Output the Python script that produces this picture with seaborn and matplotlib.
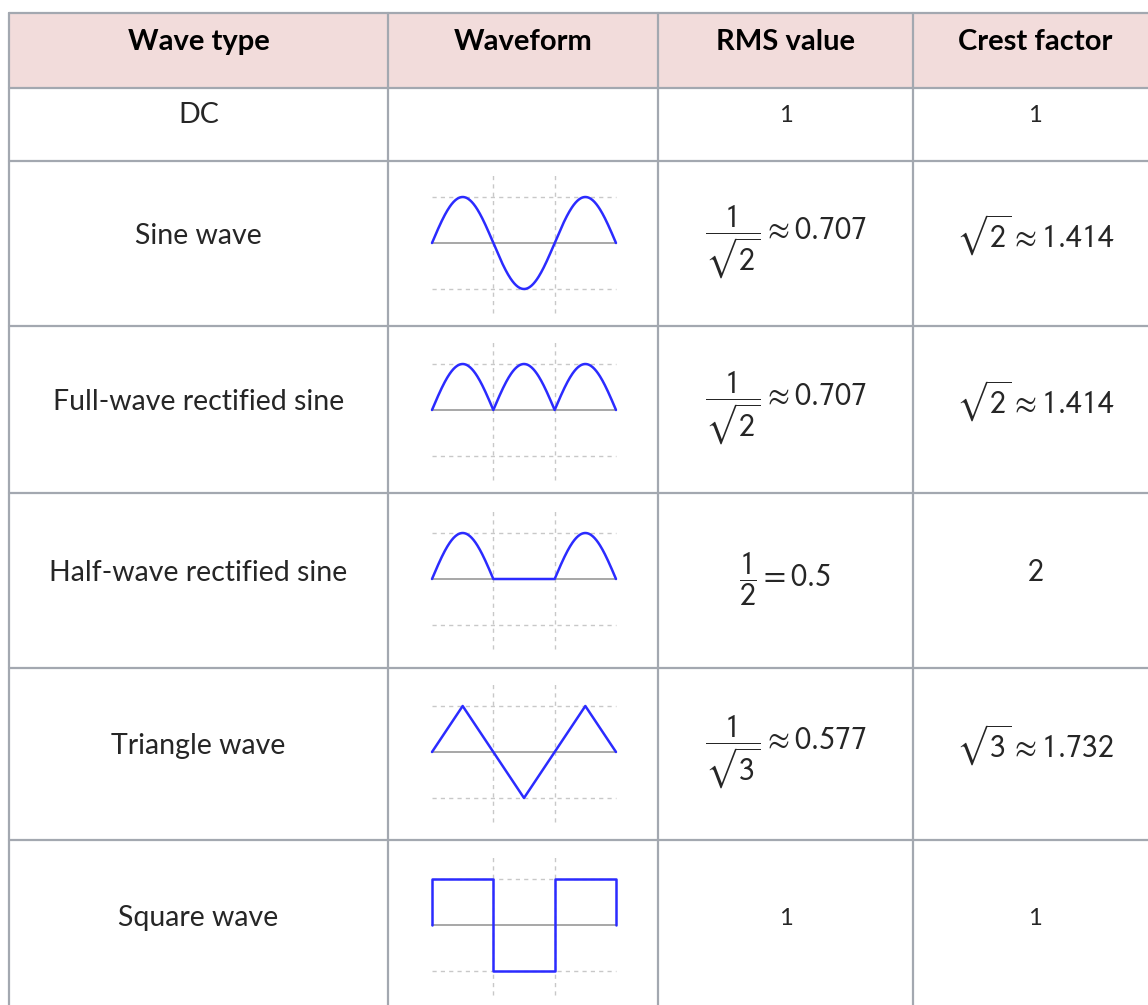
import numpy as np
import pandas as pd
import seaborn as sns
import matplotlib.pyplot as plt

sns.set_style("white")
plt.rcParams['font.family'] = ['Lato', 'DejaVu Sans']
plt.rcParams['mathtext.fontset'] = 'stixsans'

headers = ['Wave type', 'Waveform', 'RMS value', 'Crest factor']
wave_types = ['DC', 'Sine wave', 'Full-wave rectified sine', 'Half-wave rectified sine',
              'Triangle wave', 'Square wave']
rms_labels = ['1', r'$\dfrac{1}{\sqrt{2}}\approx 0.707$', r'$\dfrac{1}{\sqrt{2}}\approx 0.707$',
              r'$\dfrac{1}{2} = 0.5$', r'$\dfrac{1}{\sqrt{3}}\approx 0.577$', '1']
crest_labels = ['1', r'$\sqrt{2}\approx 1.414$', r'$\sqrt{2}\approx 1.414$', '$2$',
                r'$\sqrt{3}\approx 1.732$', '1']

# waveform vertices over 1.5 periods (t in units of pi)
t = np.linspace(0, 3, 301)
sine_y = np.sin(np.pi * t)
tri_t = [0, 0.5, 1.5, 2.5, 3]
tri_y = [0, 1, -1, 1, 0]
sq_t = [0, 0, 1, 1, 2, 2, 3, 3]
sq_y = [0, 1, 1, -1, -1, 1, 1, 0]
waves = {
    'Sine wave': (t, sine_y),
    'Full-wave rectified sine': (t, np.abs(sine_y)),
    'Half-wave rectified sine': (t, np.clip(sine_y, 0, None)),
    'Triangle wave': (tri_t, tri_y),
    'Square wave': (sq_t, sq_y),
}

W, H = 1148, 1005
col_x = [9, 388, 658, 913, 1160]
row_y = [13, 88, 161, 326, 493, 668, 840, 1012]
text_y = [42, 115, 236, 402, 573, 746, 918]
wave_cy = [None, 243, 410, 579, 752, 925]
grid_c = '#a3a8b0'

fig = plt.figure(figsize=(W / 100, H / 100), dpi=100)
ax = fig.add_axes([0, 0, 1, 1])
ax.set_xlim(0, W)
ax.set_ylim(H, 0)
ax.axis('off')

ax.fill_between([col_x[0], col_x[-1]], row_y[0], row_y[1], color='#f2dcdb', lw=0)
for y in row_y:
    ax.plot([col_x[0], col_x[-1]], [y, y], color=grid_c, lw=1.6)
for x in col_x:
    ax.plot([x, x], [row_y[0], row_y[-1]], color=grid_c, lw=1.6)

centers = [(col_x[i] + col_x[i + 1]) / 2 for i in range(4)]
centers[3] = 1035
for i, h in enumerate(headers):
    ax.text(centers[i], text_y[0], h, ha='center', va='center', fontsize=21,
            fontweight='bold', color='black')

for r, name in enumerate(wave_types):
    y = text_y[r + 1]
    ax.text(centers[0], y, name, ha='center', va='center', fontsize=20.5)
    for c, lab, dy in ((2, rms_labels[r], 6), (3, crest_labels[r], -1)):
        if lab.startswith('$'):
            ax.text(centers[c], y + dy, lab, ha='center', va='center', fontsize=23)
        else:
            ax.text(centers[c], y, lab, ha='center', va='center', fontsize=17)

    if name in waves:
        cy = wave_cy[r]
        wx0, wx1 = 432, 616
        half = 70
        amp = 46
        wax = fig.add_axes([wx0 / W, 1 - (cy + half) / H, (wx1 - wx0) / W, 2 * half / H])
        wax.axis('off')
        wax.set_xlim(0, 3)
        wax.set_ylim(-half / amp, half / amp)
        for gx in (1, 2):
            wax.axvline(gx, color='#c8c8c8', lw=1, ls=(0, (3, 3)))
        for gy in (1, -1):
            wax.axhline(gy, color='#c8c8c8', lw=1, ls=(0, (3, 3)))
        wax.axhline(0, color='#a0a0a0', lw=1.3)
        tx, wy = waves[name]
        df = pd.DataFrame({'t': tx, 'y': wy})
        sns.lineplot(data=df, x='t', y='y', ax=wax, color='#2b2bff', lw=1.8,
                     sort=False, estimator=None)
        for ln in wax.lines:
            ln.set_clip_on(False)

fig.savefig('out.png', dpi=100)
